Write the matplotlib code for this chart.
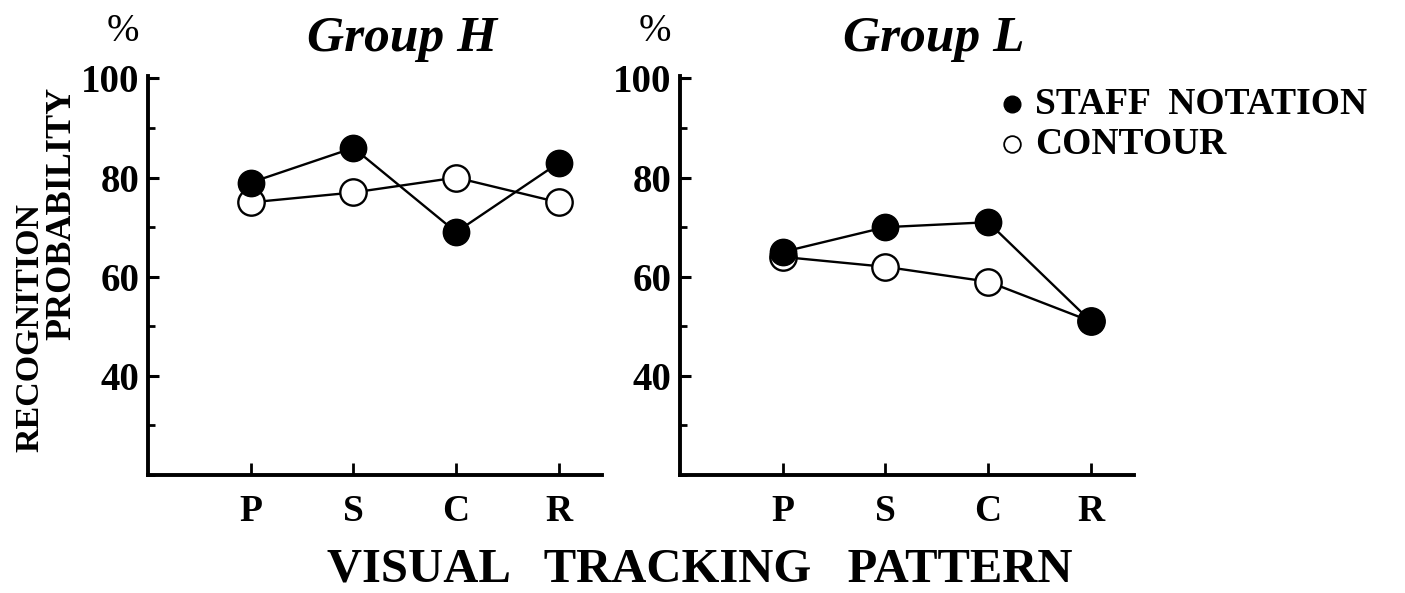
import matplotlib
matplotlib.use("Agg")
import matplotlib.pyplot as plt
from matplotlib.ticker import MultipleLocator

# data
patterns = ["P", "S", "C", "R"]
x_pos = [1, 2, 3, 4]
h_staff = [79, 86, 69, 83]
h_contour = [75, 77, 80, 75]
l_staff = [65, 70, 71, 51]
l_contour = [64, 62, 59, 51]
y_ticks = [40, 60, 80, 100]

plt.rcParams["font.family"] = ["Liberation Serif", "DejaVu Serif"]

fig = plt.figure(figsize=(14.05, 5.93), dpi=100)
ax1 = fig.add_axes([148 / 1405, 1 - 475 / 593, 454 / 1405, 399 / 593])
ax2 = fig.add_axes([680 / 1405, 1 - 475 / 593, 454 / 1405, 399 / 593])


def draw_panel(ax, staff, contour, title):
    ax.plot(x_pos, contour, "-", color="black", lw=1.7, marker="o", ms=19,
            mfc="white", mec="black", mew=1.7, zorder=3)
    ax.plot(x_pos, staff, "-", color="black", lw=1.7, marker="o", ms=19,
            mfc="black", mec="black", zorder=4)
    ax.set_xlim(0, 4.42)
    ax.set_ylim(20, 100.5)
    ax.set_xticks(x_pos)
    ax.set_xticklabels(patterns, fontsize=27, fontweight="bold")
    ax.set_yticks(y_ticks)
    ax.set_yticklabels([str(v) for v in y_ticks], fontsize=28, fontweight="bold")
    ax.yaxis.set_minor_locator(MultipleLocator(10))
    ax.tick_params(axis="y", which="major", direction="in", length=8, width=2.2, pad=6)
    ax.tick_params(axis="y", which="minor", direction="in", length=5, width=2)
    ax.tick_params(axis="x", which="major", direction="in", length=9, width=2, pad=14)
    for s in ["top", "right"]:
        ax.spines[s].set_visible(False)
    for s in ["left", "bottom"]:
        ax.spines[s].set_linewidth(2.8)
    ax.text(0.56, 1.035, title, transform=ax.transAxes, ha="center", va="bottom",
            fontsize=37, fontstyle="italic", fontweight="bold")
    ax.text(-0.055, 1.065, "%", transform=ax.transAxes, ha="center", va="bottom",
            fontsize=28)


draw_panel(ax1, h_staff, h_contour, "Group H")
draw_panel(ax2, l_staff, l_contour, "Group L")

# legend drawn as markers + text in figure coords
fig.lines.append(plt.Line2D([1012 / 1405], [1 - 104 / 593], marker="o", ms=12,
                            mfc="black", mec="black", transform=fig.transFigure))
fig.lines.append(plt.Line2D([1012 / 1405], [1 - 144 / 593], marker="o", ms=12,
                            mfc="white", mec="black", mew=1.3, transform=fig.transFigure))
fig.text(1035 / 1405, 1 - 104 / 593, "STAFF  NOTATION", ha="left", va="center",
         fontsize=27, fontweight="bold")
fig.text(1035 / 1405, 1 - 144 / 593, "CONTOUR", ha="left", va="center",
         fontsize=27, fontweight="bold")

fig.text(30 / 1405, 1 - 328 / 593, "RECOGNITION", rotation=90, ha="center",
         va="center", fontsize=24.5, fontweight="bold")
fig.text(62 / 1405, 1 - 213 / 593, "PROBABILITY", rotation=90, ha="center",
         va="center", fontsize=26, fontweight="bold")

fig.text(700 / 1405, 1 - 569 / 593, "VISUAL   TRACKING   PATTERN", ha="center",
         va="center", fontsize=35, fontweight="bold")

fig.savefig("out.png", dpi=100)
